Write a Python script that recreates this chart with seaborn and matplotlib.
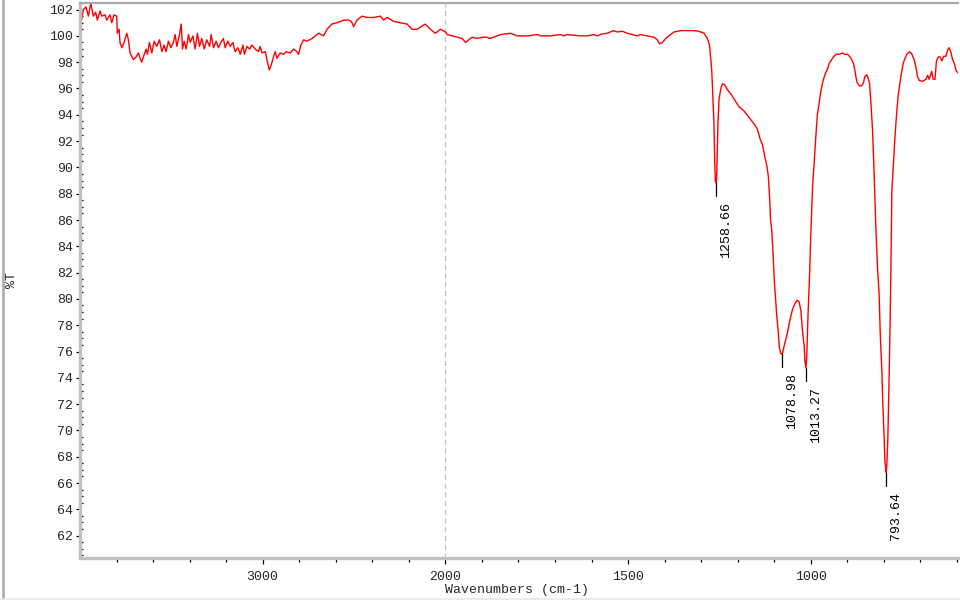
import numpy as np
import pandas as pd
import matplotlib
matplotlib.use("Agg")
import matplotlib.pyplot as plt
from matplotlib.lines import Line2D
from matplotlib.ticker import FixedLocator, MultipleLocator
import seaborn as sns

# ---- data ----
wavenumber = [
    4000, 3991, 3982, 3967, 3954, 3941, 3927, 3914, 3905, 3890, 3881, 3863, 3854, 3836, 3826, 3814,
    3799, 3796, 3786, 3781, 3771, 3759, 3744, 3735, 3726, 3708, 3693, 3680, 3671, 3662, 3653, 3638,
    3631, 3620, 3607, 3594, 3580, 3565, 3552, 3540, 3529, 3516, 3503, 3489, 3479, 3470, 3457, 3446,
    3439, 3430, 3419, 3406, 3397, 3382, 3370, 3357, 3346, 3333, 3320, 3306, 3291, 3282, 3269, 3255,
    3242, 3229, 3215, 3205, 3191, 3178, 3163, 3151, 3136, 3123, 3108, 3100, 3086, 3072, 3059, 3041,
    3023, 3014, 3004, 2986, 2977, 2964, 2953, 2941, 2931, 2922, 2904, 2886, 2871, 2849, 2831, 2813,
    2804, 2791, 2776, 2758, 2730, 2712, 2694, 2667, 2648, 2621, 2593, 2557, 2530, 2515, 2502, 2484,
    2456, 2429, 2393, 2356, 2338, 2319, 2283, 2247, 2210, 2182, 2155, 2110, 2082, 2055, 2027, 2000,
    1995, 1982, 1968, 1954, 1945, 1936, 1927, 1913, 1899, 1886, 1879, 1868, 1849, 1822, 1804, 1776,
    1747, 1740, 1712, 1685, 1676, 1667, 1630, 1612, 1594, 1584, 1571, 1557, 1540, 1530, 1516, 1502,
    1488, 1475, 1466, 1447, 1429, 1420, 1414, 1406, 1397, 1384, 1374, 1356, 1338, 1320, 1306, 1292,
    1283, 1277, 1271, 1268, 1265, 1263, 1261, 1258.66, 1257.5, 1255.6, 1254, 1251, 1246, 1242, 1236,
    1228, 1219, 1210, 1196, 1183, 1169, 1155, 1146, 1139, 1132, 1126, 1120, 1116, 1112, 1110, 1107,
    1104, 1100, 1096, 1093, 1089, 1086, 1082, 1078.98, 1077, 1073, 1064, 1057, 1050, 1044, 1038, 1032,
    1027, 1023, 1018, 1016, 1013.27, 1011, 1007, 1003, 1000, 995, 991, 986, 982, 977, 973, 968,
    964, 959, 954, 950, 945, 938, 931, 922, 913, 907, 899, 890, 883, 879, 874, 867,
    861, 856, 852, 847, 843, 839, 836, 831, 826, 822, 817, 813, 810, 805, 803, 799,
    797, 793.64, 792, 789, 786, 783, 781, 778, 774, 770, 765, 761, 756, 751, 747, 742,
    737, 730, 724, 717, 712, 708, 703, 694, 685, 680, 676, 669, 665, 660, 656, 651,
    646, 641, 636, 630, 625, 621, 616, 612, 607, 603, 598,
]
transmittance = [
    101.3, 101.2, 102.0, 102.2, 101.5, 102.5, 101.5, 101.8, 101.2, 101.9, 101.5, 101.6, 101.2, 101.6, 101.0, 101.6,
    101.5, 100.2, 100.5, 99.5, 99.1, 99.5, 100.2, 99.7, 98.7, 98.2, 98.4, 98.7, 98.3, 98.0, 98.4, 99.0,
    98.6, 99.5, 98.7, 99.6, 99.2, 99.7, 98.8, 99.3, 98.8, 99.6, 99.1, 99.5, 100.1, 99.2, 100.0, 100.9,
    99.0, 99.6, 99.0, 100.1, 99.5, 100.0, 99.0, 100.2, 99.2, 99.8, 99.0, 99.7, 99.2, 100.1, 99.1, 99.6,
    99.1, 99.5, 99.8, 99.1, 99.6, 99.2, 99.5, 98.8, 99.1, 98.6, 99.3, 98.6, 99.2, 99.0, 99.3, 99.0,
    98.8, 99.2, 98.7, 98.8, 98.2, 97.4, 97.8, 98.4, 98.8, 98.3, 98.7, 98.6, 98.8, 98.7, 99.0, 98.8,
    98.6, 99.3, 99.7, 99.6, 99.8, 100.0, 100.2, 100.0, 100.5, 100.9, 101.0, 101.2, 101.2, 101.1, 100.7, 101.2,
    101.5, 101.4, 101.4, 101.5, 101.2, 101.4, 101.1, 101.0, 100.9, 100.5, 100.5, 100.9, 100.5, 100.2, 100.5, 100.3,
    100.1, 100.0, 99.9, 99.8, 99.5, 99.7, 99.9, 99.8, 99.9, 99.9, 99.8, 99.9, 100.1, 100.2, 100.0, 100.0,
    100.1, 100.0, 100.0, 100.1, 100.0, 100.1, 100.0, 100.0, 100.1, 100.0, 100.15, 100.2, 100.4, 100.3, 100.35, 100.2,
    100.1, 100.0, 100.1, 100.0, 99.9, 99.7, 99.4, 99.5, 99.8, 100.1, 100.3, 100.4, 100.4, 100.4, 100.35, 100.2,
    99.8, 99.3, 97.4, 95.3, 93.4, 90.6, 88.9, 88.8, 89.3, 91.6, 93.4, 95.2, 96.0, 96.35, 96.3,
    95.9, 95.6, 95.2, 94.6, 94.3, 93.8, 93.3, 92.9, 92.2, 91.7, 90.85, 90.1, 89.3, 87.4, 86.0, 85.3,
    83.9, 81.5, 79.95, 78.7, 77.5, 76.3, 75.85, 75.8, 75.9, 76.4, 77.4, 78.4, 79.2, 79.6, 79.9, 79.8,
    79.1, 77.7, 76.4, 75.3, 74.75, 75.6, 79.2, 82.0, 84.8, 88.6, 90.2, 92.4, 94.0, 94.9, 95.7, 96.4,
    96.8, 97.2, 97.5, 97.9, 98.1, 98.4, 98.6, 98.6, 98.7, 98.6, 98.6, 98.3, 97.9, 97.3, 96.5, 96.2,
    96.2, 96.4, 96.9, 97.05, 96.8, 96.4, 95.2, 92.9, 89.1, 85.5, 82.2, 80.5, 77.5, 74.2, 72.2, 69.3,
    67.6, 66.8, 67.3, 69.4, 73.4, 77.9, 81.5, 88.2, 90.1, 92.1, 94.1, 95.4, 96.4, 97.3, 97.9, 98.3,
    98.6, 98.8, 98.65, 98.2, 97.6, 96.9, 96.6, 96.55, 96.7, 97.0, 96.7, 97.3, 96.7, 96.7, 98.1, 98.4,
    98.4, 98.1, 98.45, 98.45, 98.96, 99.1, 98.7, 98.2, 97.9, 97.4, 97.2,
]
peak_wn = [1258.66, 1078.98, 1013.27, 793.64]
peak_T = [88.8, 75.8, 74.75, 66.8]
peak_labels = ["1258.66", "1078.98", "1013.27", "793.64"]

x_major = [3000, 2000, 1500, 1000]
x_minor = [3800, 3600, 3400, 3200, 2800, 2600, 2400, 2200,
           1900, 1800, 1700, 1600, 1400, 1300, 1200, 1100, 900, 800, 700, 600]
y_major = list(range(62, 103, 2))

df = pd.DataFrame({"wn": wavenumber, "T": transmittance})

sns.set_theme(style="white")
plt.rcParams["font.family"] = ["Liberation Mono", "DejaVu Sans Mono"]

fig = plt.figure(figsize=(9.6, 6.0), dpi=100)
ax = fig.add_axes([80 / 960, 1 - 558 / 600, 878 / 960, 555 / 600])


def fwd(x):
    x = np.asarray(x, dtype=float)
    return np.where(x > 2000, 2000 + (x - 2000) / 2.0, x)


def inv(u):
    u = np.asarray(u, dtype=float)
    return np.where(u > 2000, 2000 + (u - 2000) * 2.0, u)


ax.set_xscale("function", functions=(fwd, inv))

sns.lineplot(data=df, x="wn", y="T", ax=ax, sort=False, estimator=None,
             color="#ff0000", linewidth=1.0)

ax.set_xlim(4000, 597)
ax.set_ylim(60.3, 102.5)

ax.axvline(2000, color="#c0c0c0", linestyle=(0, (4, 3)), linewidth=0.9, zorder=0)

# peak markers
for w, t, lab in zip(peak_wn, peak_T, peak_labels):
    ax.plot([w, w], [t, t - 1.0], color="black", linewidth=0.9)
    ax.annotate(lab, xy=(w, t - 1.0), xytext=(4, -6), textcoords="offset pixels",
                rotation=90, ha="left", va="top", fontsize=9.5, color="black")

ax.xaxis.set_major_locator(FixedLocator(x_major))
ax.xaxis.set_minor_locator(FixedLocator(x_minor))
ax.set_xticklabels([str(v) for v in x_major])
ax.yaxis.set_major_locator(FixedLocator(y_major))
ax.yaxis.set_minor_locator(MultipleLocator(0.5))

ax.tick_params(axis="x", which="major", direction="out", length=4, width=0.9,
               color="black", labelsize=9.5, pad=5, bottom=True)
ax.tick_params(axis="x", which="minor", direction="out", length=3, width=0.9,
               color="black", bottom=True)
ax.tick_params(axis="y", which="major", direction="out", length=3, width=0.9,
               color="black", labelsize=9.5, pad=2, left=True)
ax.tick_params(axis="y", which="minor", direction="in", length=2, width=0.9,
               color="black", left=True)

ax.set_xlabel("")
ax.set_ylabel("")
for side in ("left", "bottom"):
    ax.spines[side].set_color("#c0c0c0")
    ax.spines[side].set_linewidth(2.4)
ax.spines["top"].set_color("#a8a8a8")
ax.spines["top"].set_linewidth(1.6)
ax.spines["right"].set_visible(False)

fig.text(517 / 960, 1 - 590 / 600, "Wavenumbers (cm-1)", ha="center", va="center",
         fontsize=9.5)
fig.text(12 / 960, 1 - 280 / 600, "%T", ha="center", va="center", rotation=90,
         fontsize=9.5)

# outer frame
fig.add_artist(Line2D([2.5 / 960, 2.5 / 960], [0, 1], transform=fig.transFigure,
                      color="#a8a8a8", linewidth=1.8))
fig.add_artist(Line2D([0, 1], [1.5 / 600, 1.5 / 600], transform=fig.transFigure,
                      color="#e8e8e8", linewidth=1.2))

fig.savefig("out.png", dpi=100)
